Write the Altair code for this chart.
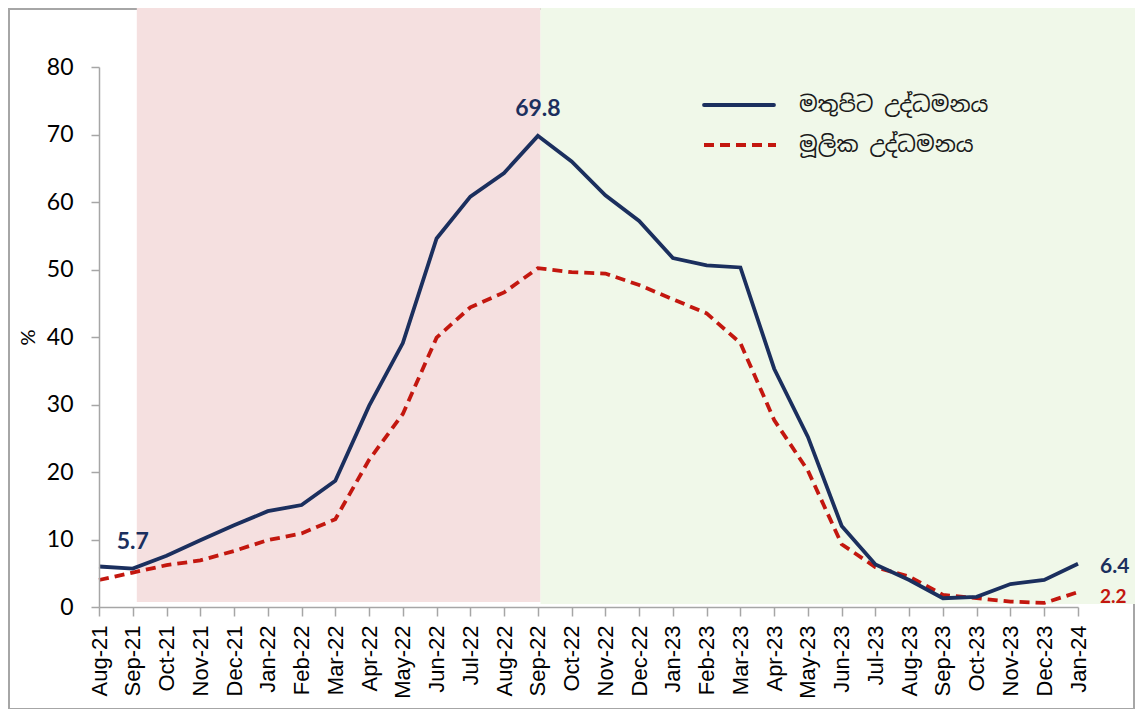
import altair as alt
import pandas as pd

months = ["Aug-21","Sep-21","Oct-21","Nov-21","Dec-21","Jan-22","Feb-22","Mar-22","Apr-22","May-22",
          "Jun-22","Jul-22","Aug-22","Sep-22","Oct-22","Nov-22","Dec-22","Jan-23","Feb-23","Mar-23",
          "Apr-23","May-23","Jun-23","Jul-23","Aug-23","Sep-23","Oct-23","Nov-23","Dec-23","Jan-24"]
headline = [6.0,5.7,7.6,9.9,12.1,14.2,15.1,18.7,29.8,39.1,54.6,60.8,64.3,69.8,66.0,61.0,57.2,51.7,50.6,50.3,
            35.3,25.2,12.0,6.3,4.0,1.3,1.5,3.4,4.0,6.4]
core = [4.0,5.1,6.2,6.9,8.3,9.9,10.9,13.0,21.8,28.6,39.9,44.4,46.6,50.2,49.6,49.4,47.7,45.6,43.5,39.1,
        27.7,20.2,9.3,5.9,4.5,1.8,1.3,0.8,0.6,2.2]
series_names = ["මතුපිට උද්ධමනය", "මූලික උද්ධමනය"]
y_ticks = [0, 10, 20, 30, 40, 50, 60, 70, 80]

# shaded periods (in month-index units)
shade_start = [1.12, 13.08]
shade_end = [13.08, 31.6]
shade_bottom = [0.75, 0.45]
shade_top = [89.5, 89.5]
shade_color = ["#f5e0e0", "#f0f8e9"]

NAVY = "#1b2f5e"
RED = "#c3170f"
LABEL_FONT = "Lato"
SIN_FONT = "Noto Sans Sinhala, Noto Sans, sans-serif"

idx = list(range(len(months)))
df = pd.DataFrame({"i": idx, "month": months, "headline": headline, "core": core})
shade_df = pd.DataFrame({"x": shade_start, "x2": shade_end, "y": shade_bottom, "y2": shade_top, "c": shade_color})

label_expr = "[" + ",".join("'" + m + "'" for m in months) + "][datum.value]"

x_scale = alt.Scale(domain=[0, len(months) - 1], nice=False, zero=False)
x_axis = alt.Axis(values=idx, labelExpr=label_expr, labelAngle=-90, labelAlign="right",
                  labelBaseline="middle", labelFont="Liberation Sans", labelFontSize=22,
                  labelColor="#000000", labelPadding=9, tickSize=9, tickColor="#a6a6a6",
                  domainColor="#a6a6a6", domainWidth=1.5, tickWidth=1.5, grid=False, title=None,
                  labelOverlap=False, zindex=1)
y_scale = alt.Scale(domain=[0, 80], nice=False)
y_axis = alt.Axis(values=y_ticks, labelFont=LABEL_FONT, labelFontSize=23, labelColor="#000000",
                  labelPadding=18, tickSize=8, tickColor="#a6a6a6", domainColor="#a6a6a6",
                  domainWidth=1.5, tickWidth=1.5, grid=False, title="%", titleFont=LABEL_FONT,
                  titleFontSize=20, titleFontWeight="normal", titleColor="#000000", titlePadding=8,
                  zindex=1)


def X(field):
    return alt.X(field, scale=x_scale, axis=x_axis)


def Y(field):
    return alt.Y(field, scale=y_scale, axis=y_axis)


one = pd.DataFrame({"a": [0]})
frame = alt.Chart(one).mark_rect(fillOpacity=0, stroke="#a6a6a6", strokeWidth=2).encode(
    x=alt.value(-90), x2=alt.value(1035), y=alt.value(-58), y2=alt.value(642))

shades = alt.Chart(shade_df).mark_rect(clip=False).encode(
    x=X("x:Q"), x2="x2:Q", y=Y("y:Q"), y2="y2:Q",
    color=alt.Color("c:N", scale=None))

base = alt.Chart(df)
core_line = base.mark_line(color=RED, strokeWidth=3.8, strokeDash=[10, 6]).encode(
    x=X("i:Q"), y=Y("core:Q"))
head_line = base.mark_line(color=NAVY, strokeWidth=3.8).encode(
    x=X("i:Q"), y=Y("headline:Q"))

lab_center = base.transform_filter("datum.i == 1 || datum.i == 13").mark_text(
    font=LABEL_FONT, fontSize=23, fontWeight="bold", color=NAVY, dy=-27, align="center").encode(
    x=X("i:Q"), y=Y("headline:Q"), text=alt.Text("headline:Q", format=".1f"))
lab_end_h = base.transform_filter("datum.i == 29").mark_text(
    font=LABEL_FONT, fontSize=21, fontWeight="bold", color=NAVY, dx=22, dy=3, align="left").encode(
    x=X("i:Q"), y=Y("headline:Q"), text=alt.Text("headline:Q", format=".1f"))
lab_end_c = base.transform_filter("datum.i == 29").mark_text(
    font=LABEL_FONT, fontSize=19, fontWeight="bold", color=RED, dx=22, dy=5, align="left").encode(
    x=X("i:Q"), y=Y("core:Q"), text=alt.Text("core:Q", format=".1f"))

leg1 = alt.Chart(one).mark_rule(color=NAVY, strokeWidth=3.8, strokeCap="round").encode(
    x=alt.value(605), x2=alt.value(675), y=alt.value(38))
leg2 = alt.Chart(one).mark_rule(color=RED, strokeWidth=3.8, strokeDash=[10, 6]).encode(
    x=alt.value(605), x2=alt.value(677), y=alt.value(78))
legt1 = alt.Chart(one).mark_text(font=SIN_FONT, fontSize=22, color="#1a1a1a", align="left", baseline="middle").encode(
    x=alt.value(700), y=alt.value(38), text=alt.value(series_names[0]))
legt2 = alt.Chart(one).mark_text(font=SIN_FONT, fontSize=22, color="#1a1a1a", align="left", baseline="middle").encode(
    x=alt.value(700), y=alt.value(78), text=alt.value(series_names[1]))

chart = alt.layer(frame, shades, core_line, head_line, lab_center, lab_end_h, lab_end_c,
                  leg1, leg2, legt1, legt2).properties(
    width=979, height=540,
    autosize=alt.AutoSizeParams(type="none"),
    padding={"left": 91, "top": 59, "right": 57, "bottom": 102},
).configure_view(stroke=None)

chart.save("out.html", embed_options={"renderer": "svg", "actions": False})
